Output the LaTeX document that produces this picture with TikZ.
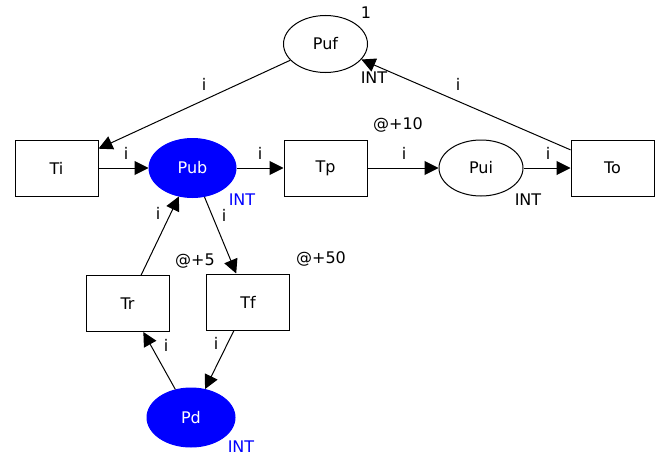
\documentclass[tikz,border=0pt]{standalone}
\usepackage{fontspec}
\setmainfont{DejaVu Sans}
\usetikzlibrary{shapes.geometric,arrows.meta}
\begin{document}
\begin{tikzpicture}[x=1pt,y=-1pt,
  font=\fontsize{16}{19}\selectfont,
  place/.style={ellipse,draw,line width=1pt,inner sep=0pt,minimum width=84pt,minimum height=57pt},
  busy/.style={place,draw=blue,fill=blue,text=white},
  trans/.style={rectangle,draw,line width=1pt,inner sep=0pt,minimum width=83pt,minimum height=56pt},
  arc/.style={draw,line width=1pt,-{Triangle[length=14pt,width=14pt]}},
  lbl/.style={inner sep=0pt},
  typ/.style={lbl,text=blue}]
\useasboundingbox (0,0) rectangle (659,455);

% places
\node[place] (puf) at (325.5,44) {Puf};
\node[busy,minimum width=87pt,minimum height=59pt] (pub) at (192.5,168) {Pub};
\node[place,minimum height=56pt] (pui) at (481,168) {Pui};
\node[busy,minimum width=88pt,minimum height=59pt] (pd) at (191,417.5) {Pd};

% transitions
\node[trans] (ti) at (56.5,168) {Ti};
\node[trans] (tp) at (325.5,168) {Tp};
\node[trans] (to) at (612.5,168) {To};
\node[trans] (tr) at (127.5,303.5) {Tr};
\node[trans] (tf) at (248,302) {Tf};

% arcs
\draw[arc] (puf) -- (ti);
\draw[arc] (to) -- (puf);
\draw[arc] (ti) -- (pub);
\draw[arc] (pub) -- (tp);
\draw[arc] (tp) -- (pui);
\draw[arc] (pui) -- (to);
\draw[arc] (tr) -- (pub);
\draw[arc] (pub) -- (tf);
\draw[arc] (tf) -- (pd);
\draw[arc] (pd) -- (tr);

% arc inscriptions
\node[lbl] (lpufti) at (204,84) {i};
\node[lbl] (ltopuf) at (458,84) {i};
\node[lbl] (ltipub) at (126,153) {i};
\node[lbl] (lpubtp) at (260,153) {i};
\node[lbl] (ltppui) at (404,153) {i};
\node[lbl] (lpuito) at (548,153) {i};
\node[lbl] (ltrpub) at (158,213) {i};
\node[lbl] (lpubtf) at (224,215) {i};
\node[lbl] (lpdtr) at (166,345) {i};
\node[lbl] (ltfpd) at (216,343) {i};

% time delays
\node[lbl] (dtp) at (398,125) {@+10};
\node[lbl] (dtr) at (195,261) {@+5};
\node[lbl] (dtf) at (321,259) {@+50};

% initial marking and colour sets
\node[lbl] (mpuf) at (366,13) {1};
\node[lbl] (cpuf) at (374,78) {INT};
\node[lbl] (cpui) at (528,200) {INT};
\node[typ] (cpub) at (242,200) {INT};
\node[typ] (cpd) at (241,446.5) {INT};
\end{tikzpicture}
\end{document}
